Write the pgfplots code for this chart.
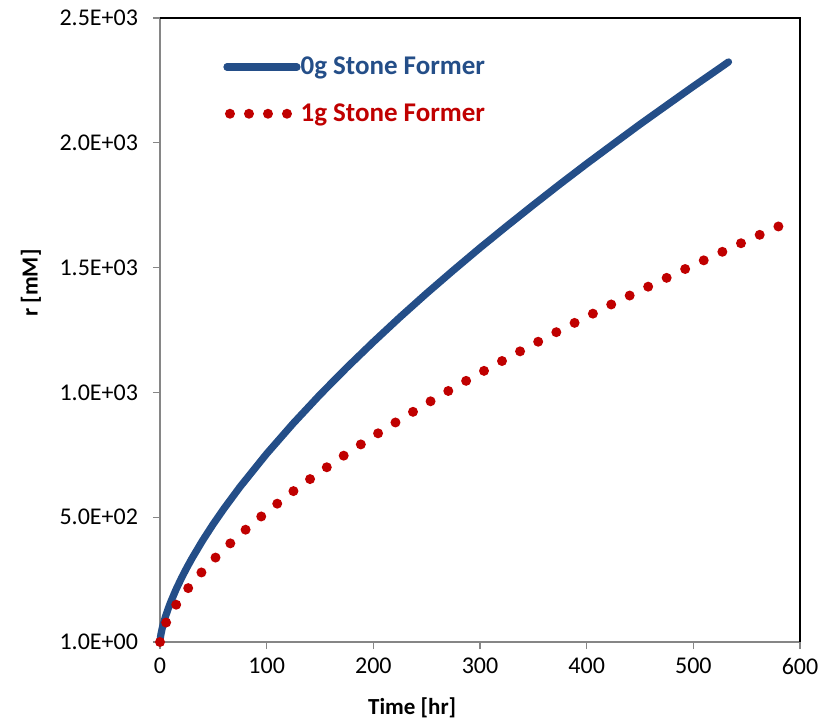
\documentclass[border=0pt]{standalone}
\usepackage{pgfplots}
\pgfplotsset{compat=1.18}
\usepackage{fontspec}
\setmainfont{Carlito}
\definecolor{seriesblue}{RGB}{36,78,136}
\definecolor{seriesred}{RGB}{192,0,0}
\definecolor{axisgray}{RGB}{134,134,134}
\pgfplotsset{
  solidkey/.style={legend image code/.code={\draw[##1] (1pt,0pt) -- (36pt,0pt);}},
  dotkey/.style={legend image code/.code={\draw[##1, dash pattern=on 0pt off 9.5pt] (2.5pt,0pt) -- (31.8pt,0pt);}},
}

\begin{document}
\begin{tikzpicture}
\useasboundingbox (-80pt,-41.5pt) rectangle (337.5pt,321pt);
\begin{axis}[
  width=320pt, height=312pt, scale only axis,
  xmin=0, xmax=600, ymin=1, ymax=2501,
  xtick={0,100,...,600},
  ytick={1,501,1001,1501,2001,2501},
  yticklabels={1.0E+00,5.0E+02,1.0E+03,1.5E+03,2.0E+03,2.5E+03},
  /pgf/number format/assume math mode=true,
  tick align=outside, xtick pos=left, ytick pos=left,
  major tick length=3.5pt,
  tick style={axisgray, line width=0.6pt},
  axis line style={axisgray, line width=0.6pt},
  ticklabel style={font=\fontsize{12}{14}\selectfont, text=black},
  xticklabel style={yshift=-1pt},
  yticklabel style={xshift=-4pt},
  xlabel={\textbf{Time [hr]}},
  ylabel={\textbf{r [mM]}},
  label style={font=\fontsize{11.5}{13}\selectfont},
  xlabel style={at={(axis description cs:0.394,-0.1058)}, anchor=center},
  ylabel style={at={(axis description cs:-0.2016,0.5753)}, anchor=center},
  legend style={draw=none, fill=none, inner sep=0pt,
    at={(axis description cs:0.0984,0.884)}, anchor=west,
    font=\fontsize{13.5}{15}\selectfont\bfseries,
    row sep=13pt,
    nodes={inner sep=0pt}},
  legend cell align=left,
  /tikz/every even column/.append style={column sep=4.5pt},
  clip=false,
]
% r(t) for the sample without stone former
\addplot[seriesblue, line width=3.6pt, line cap=round, line join=round, solidkey]
  table[row sep=\\] {
  t r \\
  0 1 \\
  0.1 8 \\
  0.5 21.5 \\
  1 34.2 \\
  2 54.5 \\
  3 71.6 \\
  5 100.9 \\
  7.5 132.5 \\
  10 160.7 \\
  15 211.0 \\
  20 256.0 \\
  25 297.5 \\
  30 336.2 \\
  40 408.0 \\
  50 474.0 \\
  60 535.6 \\
  75 622.4 \\
  100 755.2 \\
  125 877.3 \\
  150 991.8 \\
  175 1099.9 \\
  200 1203 \\
  225 1302.4 \\
  250 1398 \\
  275 1490.1 \\
  300 1580 \\
  325 1666.9 \\
  350 1752 \\
  375 1835.5 \\
  400 1917 \\
  425 1996.3 \\
  450 2075 \\
  475 2151.2 \\
  500 2227 \\
  525 2301 \\
  533 2325 \\
  };
\addlegendentry{\textcolor{seriesblue}{0g Stone Former}}
% r(t) with 1 g of stone former
\addplot[seriesred, line width=5pt, line cap=round,
  dash pattern=on 0pt off 10.25pt, dotkey]
  table[row sep=\\] {
  t r \\
  0 1 \\
  0.1 6 \\
  0.5 15.8 \\
  1 25.0 \\
  2 39.5 \\
  3 51.6 \\
  5 72.3 \\
  7.5 94.5 \\
  10 114.3 \\
  15 149.3 \\
  20 180.6 \\
  25 209.2 \\
  30 236.0 \\
  40 285.3 \\
  50 330.6 \\
  60 372.8 \\
  75 432.0 \\
  100 522.3 \\
  125 605.3 \\
  150 682.5 \\
  175 755.7 \\
  200 825.3 \\
  225 891.8 \\
  250 956.3 \\
  275 1018.5 \\
  300 1078.5 \\
  325 1137 \\
  350 1193.8 \\
  375 1250 \\
  400 1304 \\
  425 1357.5 \\
  450 1409 \\
  475 1460 \\
  500 1511 \\
  525 1560 \\
  550 1609 \\
  583 1672 \\
  };
\addlegendentry{\textcolor{seriesred}{1g Stone Former}}
% plot-area border on the top and right
\draw[black, line width=0.8pt] (rel axis cs:0,1) -- (rel axis cs:1,1) -- (rel axis cs:1,0);
\end{axis}
\end{tikzpicture}
\end{document}
